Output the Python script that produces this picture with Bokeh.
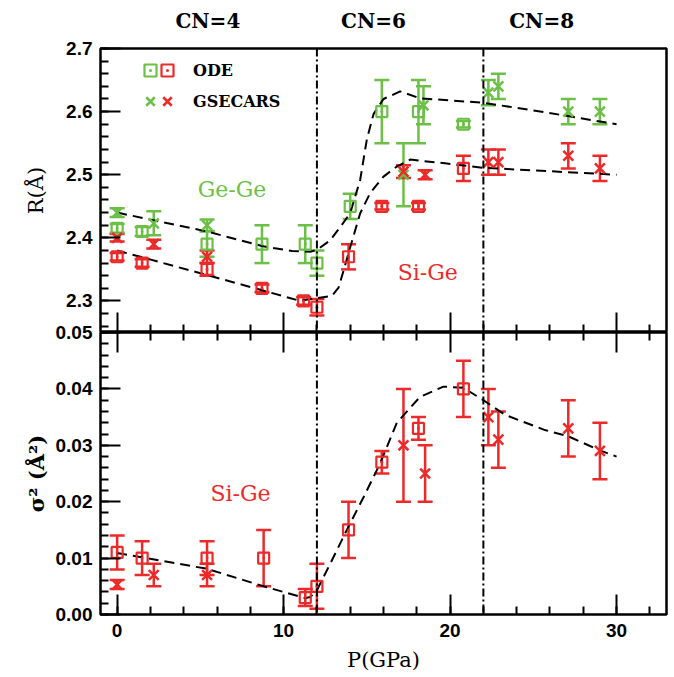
from bokeh.plotting import figure
from bokeh.layouts import column
from bokeh.models import (Range1d, Span, Whisker, TeeHead, ColumnDataSource, Label,
                          LinearAxis, FixedTicker, SingleIntervalTicker, PrintfTickFormatter,
                          Legend, LegendItem)
from bokeh.embed import file_html
from bokeh.resources import INLINE

GREEN = "#6cbf47"
RED = "#ec2a2a"

# ---------------- data: top panel R (Angstrom) ----------------
ode_ge_p = [0, 1.5, 5.4, 8.7, 11.3, 12.0, 14.0, 15.9, 18.1, 20.8]
ode_ge_r = [2.415, 2.41, 2.39, 2.39, 2.39, 2.36, 2.45, 2.60, 2.60, 2.58]
ode_ge_e = [0.007, 0.007, 0.02, 0.03, 0.03, 0.02, 0.02, 0.05, 0.05, 0.005]

gse_ge_p = [0, 2.2, 5.4, 17.2, 18.4, 22.3, 22.9, 27.1, 29.0]
gse_ge_r = [2.44, 2.423, 2.42, 2.50, 2.61, 2.63, 2.64, 2.60, 2.60]
gse_ge_e = [0.007, 0.019, 0.009, 0.05, 0.03, 0.02, 0.02, 0.02, 0.02]

ode_si_p = [0, 1.5, 5.4, 8.7, 11.2, 12.0, 13.9, 15.9, 18.1, 20.8]
ode_si_r = [2.37, 2.36, 2.35, 2.32, 2.30, 2.29, 2.37, 2.45, 2.45, 2.51]
ode_si_e = [0.006, 0.006, 0.01, 0.006, 0.006, 0.013, 0.02, 0.005, 0.005, 0.02]

gse_si_p = [0, 2.2, 5.4, 17.2, 18.5, 22.3, 22.9, 27.1, 29.0]
gse_si_r = [2.40, 2.39, 2.37, 2.505, 2.50, 2.52, 2.52, 2.53, 2.51]
gse_si_e = [0.006, 0.007, 0.01, 0.01, 0.007, 0.02, 0.02, 0.02, 0.02]

fit_ge_p = [0, 5.4, 8.7, 10.5, 11.6, 12.0, 12.8, 13.4, 14.0, 14.6, 15.0, 15.4, 16.0, 17.0, 18.2, 22.0, 25.7, 30.0]
fit_ge_r = [2.44, 2.41, 2.387, 2.379, 2.378, 2.381, 2.396, 2.417, 2.439, 2.492, 2.556, 2.596, 2.62, 2.632, 2.621, 2.614, 2.599, 2.58]

fit_si_p = [0, 5.4, 8.7, 11.0, 11.6, 12.9, 13.3, 13.6, 14.0, 14.6, 15.2, 16.0, 16.8, 17.6, 19.7, 22.0, 30.0]
fit_si_r = [2.38, 2.341, 2.317, 2.30, 2.303, 2.308, 2.321, 2.348, 2.385, 2.439, 2.471, 2.497, 2.513, 2.524, 2.518, 2.511, 2.50]

# ---------------- data: bottom panel sigma^2 (Si-Ge) ----------------
ode_s_p = [0, 1.5, 5.4, 8.8, 11.3, 12.0, 13.9, 15.9, 18.1, 20.8]
ode_s = [0.011, 0.010, 0.010, 0.010, 0.003, 0.005, 0.015, 0.027, 0.033, 0.040]
ode_s_e = [0.003, 0.003, 0.003, 0.005, 0.0015, 0.004, 0.005, 0.002, 0.002, 0.005]

gse_s_p = [0, 2.2, 5.4, 17.2, 18.5, 22.3, 22.9, 27.1, 29.0]
gse_s = [0.0053, 0.007, 0.007, 0.030, 0.025, 0.035, 0.031, 0.033, 0.029]
gse_s_e = [0.0008, 0.002, 0.002, 0.010, 0.005, 0.005, 0.005, 0.005, 0.005]

fit_s_p = [0, 5.4, 8.8, 11.3, 11.6, 12.0, 12.8, 13.8, 14.8, 15.8, 16.8, 18.2, 19.6, 20.8, 22.0, 23.3, 25.7, 27.1, 29.0, 30.0]
fit_s = [0.0109, 0.0081, 0.005, 0.0029, 0.0031, 0.0043, 0.009, 0.015, 0.0208, 0.0268, 0.034, 0.0386, 0.0404, 0.0402, 0.038, 0.0354, 0.0327, 0.0316, 0.0291, 0.028]

cn_pos = [5.45, 15.4, 25.5]
cn_labels = ["CN=4", "CN=6", "CN=8"]
phase_bounds = [12, 22]
p_major = [0, 10, 20, 30]
p_minor = [2, 4, 6, 8, 12, 14, 16, 18, 22, 24, 26, 28, 32]


def tick_style(ax):
    ax.axis_line_color = None
    ax.major_tick_in = 20
    ax.major_tick_out = 0
    ax.minor_tick_in = 8
    ax.minor_tick_out = 0
    ax.major_tick_line_width = 2
    ax.minor_tick_line_width = 2
    ax.major_tick_line_color = "black"
    ax.minor_tick_line_color = "black"


def label_style(ax):
    ax.major_label_text_font = "Liberation Sans"
    ax.major_label_text_font_style = "bold"
    ax.major_label_text_font_size = "19px"
    ax.major_label_text_color = "black"
    ax.axis_label_text_font = "DejaVu Serif"
    ax.axis_label_text_font_style = "normal"
    ax.axis_label_text_font_size = "21px"
    ax.axis_label_text_color = "black"


def bare_x_ticks(p, side):
    # unlabeled inward x ticks (long at majors, short at minors)
    for ticks, length in ((p_major, 20), (p_minor, 8)):
        ax = LinearAxis(ticker=FixedTicker(ticks=[], minor_ticks=ticks))
        tick_style(ax)
        ax.minor_tick_in = length
        ax.major_label_standoff = 0
        p.add_layout(ax, side)


def series(p, xs, ys, es, color, marker, size, lw):
    src = ColumnDataSource(dict(x=xs, y=ys,
                                lo=[y - e for y, e in zip(ys, es)],
                                hi=[y + e for y, e in zip(ys, es)]))
    w = Whisker(source=src, base="x", lower="lo", upper="hi", dimension="height",
                line_color=color, line_width=2.5,
                lower_head=TeeHead(size=15, line_color=color, line_width=2.5),
                upper_head=TeeHead(size=15, line_color=color, line_width=2.5))
    p.add_layout(w)
    r = p.scatter("x", "y", source=src, marker=marker, size=size,
                  line_color=color, fill_color=None, line_width=lw)
    return r


def frame(p):
    p.outline_line_color = "black"
    p.outline_line_width = 2.5
    p.outline_line_alpha = 1
    p.xgrid.visible = False
    p.ygrid.visible = False
    p.background_fill_color = "white"
    for b in phase_bounds:
        p.add_layout(Span(location=b, dimension="height", line_color="black",
                          line_width=2, line_dash="8 3 2 3"))


xr = Range1d(-1, 33)

# ---------------- top panel ----------------
top = figure(width=674, height=332, x_range=xr, y_range=Range1d(2.25, 2.7),
             output_backend="svg", toolbar_location=None,
             x_axis_location=None, y_axis_location=None,
             min_border_left=100, min_border_right=8, min_border_top=48, min_border_bottom=0)
frame(top)
top.border_fill_color = "white"

ly = LinearAxis(ticker=SingleIntervalTicker(interval=0.1, num_minor_ticks=5),
                formatter=PrintfTickFormatter(format="%.1f"), axis_label="R(Å)")
tick_style(ly)
label_style(ly)
ly.major_label_standoff = 8
ly.axis_label_standoff = 15
top.add_layout(ly, "left")

bare_x_ticks(top, "below")

cn = LinearAxis(ticker=FixedTicker(ticks=cn_pos, minor_ticks=[]),
                major_label_overrides={p: t for p, t in zip(cn_pos, cn_labels)})
cn.axis_line_color = None
cn.major_tick_in = 0
cn.major_tick_out = 0
cn.minor_tick_in = 0
cn.minor_tick_out = 0
cn.major_label_standoff = 16
cn.major_label_text_font = "DejaVu Serif"
cn.major_label_text_font_style = "bold"
cn.major_label_text_font_size = "20px"
cn.major_label_text_color = "black"
top.add_layout(cn, "above")

top.line(fit_ge_p, fit_ge_r, line_color="black", line_width=2, line_dash="10 6")
top.line(fit_si_p, fit_si_r, line_color="black", line_width=2, line_dash="10 6")

g_ode = series(top, ode_ge_p, ode_ge_r, ode_ge_e, GREEN, "square_dot", 11, 2.2)
g_gse = series(top, gse_ge_p, gse_ge_r, gse_ge_e, GREEN, "x", 14, 2.5)
r_ode = series(top, ode_si_p, ode_si_r, ode_si_e, RED, "square_dot", 11, 2.2)
r_gse = series(top, gse_si_p, gse_si_r, gse_si_e, RED, "x", 14, 2.5)

top.add_layout(Label(x=6.9, y=2.476, text="Ge-Ge", text_color=GREEN, text_align="center",
                     text_baseline="middle", text_font="DejaVu Serif", text_font_size="22px"))
top.add_layout(Label(x=18.66, y=2.345, text="Si-Ge", text_color=RED, text_align="center",
                     text_baseline="middle", text_font="DejaVu Serif", text_font_size="22px"))


def make_legend(items, loc, standoff, font_size):
    return Legend(items=items, location=loc, orientation="vertical",
                  border_line_color=None, background_fill_alpha=0,
                  padding=0, margin=0, spacing=1,
                  glyph_height=30, glyph_width=30, label_height=30,
                  label_standoff=standoff, label_text_font="DejaVu Serif",
                  label_text_font_style="bold", label_text_font_size=font_size,
                  label_text_color="black")


leg_g = make_legend([LegendItem(label=" ", renderers=[g_ode]),
                     LegendItem(label=" ", renderers=[g_gse])], (35, 216), 0, "4px")
leg_r = make_legend([LegendItem(label="ODE", renderers=[r_ode]),
                     LegendItem(label="GSECARS", renderers=[r_gse])], (52, 216), 11, "16px")
top.add_layout(leg_g)
top.add_layout(leg_r)

# ---------------- bottom panel ----------------
OVER = 14
bot = figure(width=674, height=677 - 332 + OVER, x_range=xr, y_range=Range1d(0, 0.05),
             output_backend="svg", toolbar_location=None,
             x_axis_location=None, y_axis_location=None,
             min_border_left=100, min_border_right=8, min_border_top=OVER, min_border_bottom=63,
             margin=(-OVER, 0, 0, 0))
frame(bot)
bot.border_fill_alpha = 0

ly2 = LinearAxis(ticker=SingleIntervalTicker(interval=0.01, num_minor_ticks=5),
                 formatter=PrintfTickFormatter(format="%.2f"), axis_label="σ² (Å²)")
tick_style(ly2)
label_style(ly2)
ly2.major_label_standoff = 8
ly2.axis_label_standoff = 4
ly2.axis_label_text_font_style = "bold"
bot.add_layout(ly2, "left")

bare_x_ticks(bot, "above")

bx2 = LinearAxis(ticker=SingleIntervalTicker(interval=10, num_minor_ticks=5), axis_label="P(GPa)")
tick_style(bx2)
label_style(bx2)
bx2.major_label_standoff = 9
bx2.axis_label_standoff = 8
bot.add_layout(bx2, "below")

bot.line(fit_s_p, fit_s, line_color="black", line_width=2, line_dash="10 6")
series(bot, ode_s_p, ode_s, ode_s_e, RED, "square_dot", 11, 2.2)
series(bot, gse_s_p, gse_s, gse_s_e, RED, "x", 14, 2.5)

bot.add_layout(Label(x=7.41, y=0.0215, text="Si-Ge", text_color=RED, text_align="center",
                     text_baseline="middle", text_font="DejaVu Serif", text_font_size="22px"))

layout = column(top, bot, spacing=0)
open("out.html", "w").write(file_html(layout, INLINE))
